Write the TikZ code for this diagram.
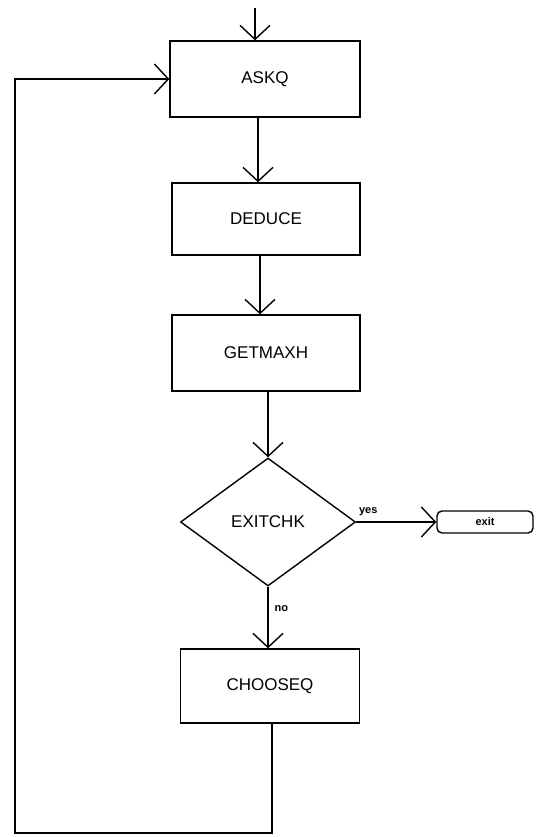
\documentclass[tikz,border=0pt]{standalone}
\usepackage{fontspec}
\setsansfont{Liberation Sans}
\usetikzlibrary{arrows.meta,shapes.geometric}
\begin{document}
\begin{tikzpicture}[x=1pt,y=-1pt,
  line width=1.4pt,
  every node/.style={font=\sffamily\fontsize{17}{19}\selectfont},
  procbox/.style={draw, rectangle, inner sep=0pt},
  decbox/.style={draw, diamond, aspect=1.39, minimum width=175pt, minimum height=128pt, inner sep=0pt},
  termbox/.style={draw, rectangle, rounded corners=5pt, minimum width=96pt, minimum height=22pt, inner sep=0pt, font=\sffamily\bfseries\fontsize{11}{12}\selectfont},
  lbl/.style={font=\sffamily\bfseries\fontsize{11}{12}\selectfont, inner sep=0pt},
  flow/.style={-{Straight Barb[length=14pt,width=30pt]}}
]
\useasboundingbox (0,0) rectangle (535,837);
\node[procbox, minimum width=190pt, minimum height=76pt] (askq) at (265,79) {ASKQ};
\node[procbox, minimum width=188pt, minimum height=72pt] (deduce) at (266,219) {DEDUCE};
\node[procbox, minimum width=188pt, minimum height=76pt] (getmaxh) at (266,353) {GETMAXH};
\node[decbox] (exitchk) at (268,522) {EXITCHK};
\node[termbox] (exit) at (485,522) {exit};
\node[procbox, minimum width=179pt, minimum height=74pt] (chooseq) at (270,686) {CHOOSEQ};
\coordinate (top) at (255,8);
\coordinate (bot) at (272,833);
\coordinate (botleft) at (15,833);
\coordinate (topleft) at (15,79);
\draw[flow] (top) -- (top |- askq.north);
\draw[flow] ([xshift=-7pt]askq.south) -- ([xshift=-7pt]askq.south |- deduce.north);
\draw[flow] ([xshift=-6pt]deduce.south) -- ([xshift=-6pt]deduce.south |- getmaxh.north);
\draw[flow] (exitchk.north |- getmaxh.south) -- (exitchk.north);
\draw[flow] (exitchk.east) -- node[lbl, above=6pt, pos=0.15] {yes} (exit.west);
\draw[flow] (exitchk.south) -- node[lbl, right=6pt, pos=0.35] {no} (exitchk.south |- chooseq.north);
\draw[flow] ([xshift=2pt]chooseq.south) -- (bot) -- (botleft) -- (topleft) -- (askq.west);
\end{tikzpicture}
\end{document}
